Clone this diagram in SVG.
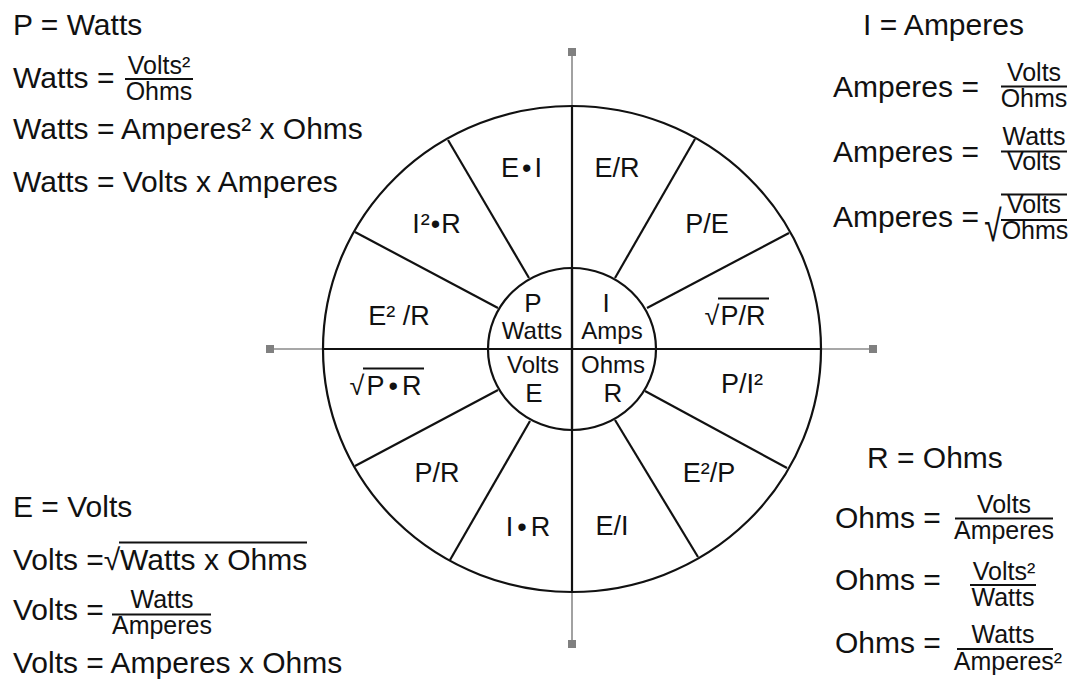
<svg xmlns="http://www.w3.org/2000/svg" width="1079" height="680" viewBox="0 0 1079 680">
<style>
text{font-family:"Liberation Sans",Arial,sans-serif;fill:#111}
.m{font-size:30px}
.f{font-size:25px;text-anchor:middle}
.w{font-size:27px;text-anchor:middle}
.l{font-size:26px;text-anchor:middle}
.s{font-size:24px;text-anchor:middle}
.bar{stroke:#111;stroke-width:2}
.blk{stroke:#111;stroke-width:2.2;fill:none}
.ax{stroke:#8a8a8a;stroke-width:1.6}
.sq{fill:#808080}
</style>
<rect width="1079" height="680" fill="#fff"/>
<g id="axes">
<line class="ax" x1="270" y1="349" x2="873" y2="349"/>
<line class="ax" x1="572" y1="52" x2="572" y2="644"/>
<rect class="sq" x="266" y="345" width="8" height="8"/>
<rect class="sq" x="869" y="345" width="8" height="8"/>
<rect class="sq" x="568" y="48" width="8" height="8"/>
<rect class="sq" x="568" y="640" width="8" height="8"/>
</g>
<g id="wheel">
<ellipse class="blk" cx="572" cy="349" rx="249" ry="243" fill="#fff"/>
<line class="blk" x1="323" y1="349" x2="821" y2="349"/>
<line class="blk" x1="572" y1="106" x2="572" y2="592"/>
<line class="blk" x1="529" y1="278" x2="448" y2="140"/>
<line class="blk" x1="498" y1="308" x2="355" y2="232"/>
<line class="blk" x1="615" y1="278" x2="695" y2="139"/>
<line class="blk" x1="647" y1="308" x2="789" y2="233"/>
<line class="blk" x1="498" y1="390" x2="355" y2="466"/>
<line class="blk" x1="530" y1="421" x2="450" y2="560"/>
<line class="blk" x1="645" y1="391" x2="787" y2="468"/>
<line class="blk" x1="615" y1="420" x2="698" y2="557"/>
<ellipse class="blk" cx="572" cy="349" rx="84" ry="81" fill="#fff"/>
<line class="blk" x1="488" y1="349" x2="656" y2="349"/>
<line class="blk" x1="572" y1="268" x2="572" y2="430"/>
</g>
<g id="center">
<text class="l" x="533" y="312">P</text>
<text class="s" x="532" y="339">Watts</text>
<text class="l" x="606" y="312">I</text>
<text class="s" x="612" y="339">Amps</text>
<text class="s" x="533" y="373">Volts</text>
<text class="l" x="534" y="402">E</text>
<text class="s" x="613" y="373">Ohms</text>
<text class="l" x="613" y="402">R</text>
</g>
<g id="sectors">
<text class="w" x="523" y="177" letter-spacing="3">E•I</text>
<text class="w" x="437" y="233" letter-spacing="1">I²•R</text>
<text class="w" x="399" y="325">E² /R</text>
<text class="w" x="617" y="177">E/R</text>
<text class="w" x="707" y="233">P/E</text>
<text class="w" x="743" y="325">P/R</text>
<text class="w" x="712" y="325">√</text>
<line class="bar" x1="718" y1="298.5" x2="769" y2="298.5"/>
<text class="w" x="396" y="395" letter-spacing="4">P•R</text>
<text class="w" x="357" y="395">√</text>
<line class="bar" x1="363" y1="368.5" x2="424" y2="368.5"/>
<text class="w" x="437" y="482">P/R</text>
<text class="w" x="530" y="536" letter-spacing="4">I•R</text>
<text class="w" x="742" y="393">P/I²</text>
<text class="w" x="709" y="482">E²/P</text>
<text class="w" x="612" y="535">E/I</text>
</g>
<g id="watts">
<text class="m" x="13" y="35">P = Watts</text>
<text class="m" x="13" y="88">Watts =</text>
<text class="f" x="159" y="74">Volts²</text>
<line class="bar" x1="125" y1="79" x2="193" y2="79"/>
<text class="f" x="159" y="99.5">Ohms</text>
<text class="m" x="13" y="138.5">Watts = Amperes² x Ohms</text>
<text class="m" x="13" y="191.5">Watts = Volts x Amperes</text>
</g>
<g id="amperes">
<text class="m" x="863" y="35">I = Amperes</text>
<text class="m" x="833" y="97">Amperes =</text>
<text class="f" x="1034" y="81">Volts</text>
<line class="bar" x1="1001" y1="86.5" x2="1067" y2="86.5"/>
<text class="f" x="1034" y="107">Ohms</text>
<text class="m" x="833" y="162">Amperes =</text>
<text class="f" x="1034" y="145">Watts</text>
<line class="bar" x1="1001" y1="151.5" x2="1067" y2="151.5"/>
<text class="f" x="1034" y="170">Volts</text>
<text class="m" x="833" y="227">Amperes =</text>
<text transform="translate(993,241) scale(0.72,1)" style="font-size:44px;text-anchor:middle">√</text>
<line class="bar" x1="1001" y1="194.5" x2="1067" y2="194.5"/>
<text class="f" x="1034" y="213">Volts</text>
<line class="bar" x1="1001" y1="220" x2="1067" y2="220"/>
<text class="f" x="1035" y="239">Ohms</text>
</g>
<g id="volts">
<text class="m" x="13" y="517">E = Volts</text>
<text class="m" x="13" y="570">Volts =</text>
<text class="m" x="112" y="570" text-anchor="middle">√</text>
<line class="bar" x1="119" y1="542.5" x2="307" y2="542.5"/>
<text class="m" x="120" y="570">Watts x Ohms</text>
<text class="m" x="13" y="620">Volts =</text>
<text class="f" x="162" y="608">Watts</text>
<line class="bar" x1="112" y1="614.5" x2="211" y2="614.5"/>
<text class="f" x="162" y="634">Amperes</text>
<text class="m" x="13" y="673">Volts = Amperes x Ohms</text>
</g>
<g id="ohms">
<text class="m" x="867" y="468">R = Ohms</text>
<text class="m" x="835" y="528">Ohms =</text>
<text class="f" x="1004" y="513">Volts</text>
<line class="bar" x1="955" y1="518.5" x2="1053" y2="518.5"/>
<text class="f" x="1004" y="539">Amperes</text>
<text class="m" x="835" y="590">Ohms =</text>
<text class="f" x="1004" y="580">Volts²</text>
<line class="bar" x1="970" y1="585" x2="1036" y2="585"/>
<text class="f" x="1003" y="606">Watts</text>
<text class="m" x="835" y="653.3">Ohms =</text>
<text class="f" x="1003" y="643">Watts</text>
<line class="bar" x1="957" y1="649" x2="1053" y2="649"/>
<text class="f" x="1008" y="670">Amperes²</text>
</g>
</svg>
